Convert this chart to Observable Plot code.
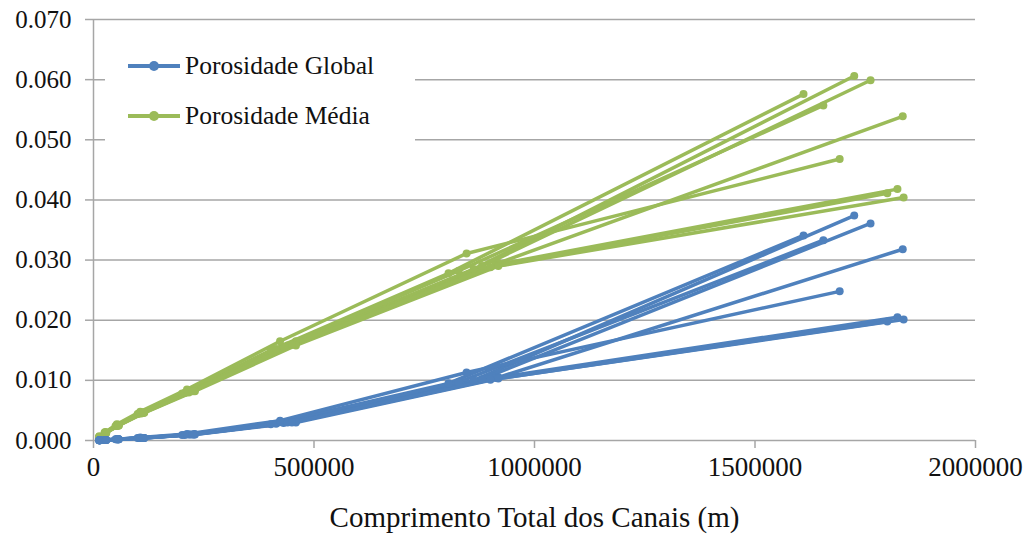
<!DOCTYPE html>
<html>
<head>
<meta charset="utf-8">
<script src="https://cdn.jsdelivr.net/npm/d3@7"></script>
<script src="https://cdn.jsdelivr.net/npm/@observablehq/plot@0.6"></script>
<style>
  html, body { margin: 0; padding: 0; background: #fff; }
  #wrap { position: relative; width: 1025px; height: 536px; }
  #legend { position: absolute; left: 105px; top: 33px; width: 310px; height: 114px; background: #fff;
            font-family: "Times New Roman", "Liberation Serif", "DejaVu Serif", serif; font-size: 25.5px; color: #111; }
  .item { position: absolute; left: 22px; display: flex; align-items: center; height: 30px; }
  .item span { margin-left: 4px; }
</style>
</head>
<body>
<div id="wrap">
  <div id="chart"></div>
  <div id="legend">
    <div class="item" style="top:18px"><svg width="54" height="12"><line x1="1" y1="6" x2="53" y2="6" stroke="#4f81bd" stroke-width="4"/><circle cx="27" cy="6" r="5" fill="#4f81bd"/></svg><span>Porosidade Global</span></div>
    <div class="item" style="top:68px"><svg width="54" height="12"><line x1="1" y1="6" x2="53" y2="6" stroke="#9bbb59" stroke-width="4"/><circle cx="27" cy="6" r="5" fill="#9bbb59"/></svg><span>Porosidade Média</span></div>
  </div>
</div>
<script>
// Comprimento total dos canais (m), one list per simulation
const comprimento = [
  [13500, 27000, 54000, 108000, 216000, 431000, 862000, 1725000],
  [13800, 27500, 55000, 110000, 220000, 440000, 881000, 1762000],
  [12600, 25000, 50000, 100000, 201000, 402000, 805000, 1610000],
  [12900, 26000, 52000, 103000, 207000, 414000, 828000, 1655000],
  [14300, 29000, 57000, 115000, 229000, 459000, 918000, 1835000],
  [13200, 26500, 53000, 106000, 212000, 423000, 846000, 1692000],
  [14200, 28500, 57000, 114000, 228000, 456000, 911000, 1823000],
  [14400, 28700, 57400, 115000, 230000, 459000, 918000, 1837000],
  [14100, 28000, 56000, 112000, 225000, 450000, 900000, 1800000]
];
const porosidadeGlobal = [
  [0.00005, 0.0001, 0.0002, 0.0004, 0.0010, 0.0029, 0.0100, 0.0374],
  [0.00005, 0.0001, 0.0002, 0.0004, 0.0010, 0.0030, 0.0102, 0.0361],
  [0.00005, 0.0001, 0.0002, 0.0004, 0.0009, 0.0027, 0.0095, 0.0341],
  [0.00005, 0.0001, 0.0002, 0.0004, 0.0009, 0.0028, 0.0097, 0.0333],
  [0.00005, 0.0001, 0.0002, 0.0004, 0.0011, 0.0032, 0.0105, 0.0318],
  [0.00005, 0.0001, 0.0002, 0.0005, 0.0011, 0.0033, 0.0113, 0.0248],
  [0.00005, 0.0001, 0.0002, 0.0004, 0.0010, 0.0031, 0.0104, 0.0205],
  [0.00005, 0.0001, 0.0002, 0.0004, 0.0010, 0.0030, 0.0103, 0.0201],
  [0.00005, 0.0001, 0.0002, 0.0004, 0.0010, 0.0030, 0.0101, 0.0198]
];
const porosidadeMedia = [
  [0.0006, 0.0013, 0.0025, 0.0045, 0.0080, 0.0155, 0.0285, 0.0606],
  [0.0006, 0.0013, 0.0025, 0.0046, 0.0082, 0.0158, 0.0290, 0.0599],
  [0.0006, 0.0013, 0.0024, 0.0044, 0.0078, 0.0150, 0.0278, 0.0576],
  [0.0006, 0.0013, 0.0024, 0.0045, 0.0079, 0.0152, 0.0282, 0.0557],
  [0.0006, 0.0013, 0.0026, 0.0047, 0.0085, 0.0165, 0.0295, 0.0539],
  [0.0007, 0.0014, 0.0027, 0.0048, 0.0085, 0.0165, 0.0311, 0.0468],
  [0.0006, 0.0013, 0.0025, 0.0046, 0.0083, 0.0160, 0.0292, 0.0418],
  [0.0006, 0.0013, 0.0025, 0.0046, 0.0082, 0.0158, 0.0290, 0.0404],
  [0.0006, 0.0013, 0.0025, 0.0046, 0.0082, 0.0159, 0.0288, 0.0411]
];
// faint red dashed series hidden under the blue bundle
const comprimentoRef = [13000, 54000, 108000, 216000, 431000, 862000];
const porosidadeRef = [0.00003, 0.0001, 0.0003, 0.0008, 0.0026, 0.0097];

const yTicks = [0, 0.01, 0.02, 0.03, 0.04, 0.05, 0.06, 0.07];
const xTicks = [0, 500000, 1000000, 1500000, 2000000];

const globalData = [], mediaData = [];
comprimento.forEach((xs, i) => xs.forEach((x, j) => {
  globalData.push({s: i, x, y: porosidadeGlobal[i][j]});
  mediaData.push({s: i, x, y: porosidadeMedia[i][j]});
}));
const refData = comprimentoRef.map((x, j) => ({x, y: porosidadeRef[j]}));

const BLUE = "#4f81bd", GREEN = "#9bbb59", GRID = "#a6a6a6";
const SERIF = "'Times New Roman', 'Liberation Serif', 'DejaVu Serif', serif";

const chart = Plot.plot({
  width: 1025, height: 536,
  marginLeft: 93, marginRight: 50, marginTop: 19, marginBottom: 96,
  style: {fontFamily: SERIF, fontSize: "25px", color: "#111", background: "#fff"},
  x: {domain: [0, 2000000]},
  y: {domain: [0, 0.07]},
  marks: [
    Plot.ruleY(yTicks.filter(d => d > 0), {stroke: GRID, strokeWidth: 1.5}),
    Plot.ruleX([0], {stroke: GRID, strokeWidth: 1.5}),
    Plot.ruleY([0], {stroke: GRID, strokeWidth: 1.5}),
    Plot.axisY({ticks: yTicks, tickFormat: d3.format(".3f"), tickSize: 8, tickPadding: 14, stroke: GRID, strokeWidth: 1.5, label: null, fill: "#111"}),
    Plot.axisX({ticks: xTicks, tickFormat: d3.format("d"), tickSize: 8, tickPadding: 8, stroke: GRID, strokeWidth: 1.5, fill: "#111",
      label: "Comprimento Total dos Canais (m)", labelAnchor: "center", labelArrow: "none", labelOffset: 86}),
    Plot.line(refData, {x: "x", y: "y", stroke: "#c0504d", strokeWidth: 1.2, strokeDasharray: "4,3"}),
    Plot.line(mediaData, {x: "x", y: "y", z: "s", stroke: GREEN, strokeWidth: 3.5}),
    Plot.dot(mediaData, {x: "x", y: "y", r: 4, fill: GREEN}),
    Plot.line(globalData, {x: "x", y: "y", z: "s", stroke: BLUE, strokeWidth: 3.5}),
    Plot.dot(globalData, {x: "x", y: "y", r: 4, fill: BLUE})
  ]
});
d3.select(chart).selectAll('[aria-label="x-axis tick label"]').attr("font-size", 27);
d3.select(chart).selectAll('[aria-label="x-axis label"]').attr("font-size", 29);
document.getElementById("chart").appendChild(chart);
</script>
</body>
</html>
